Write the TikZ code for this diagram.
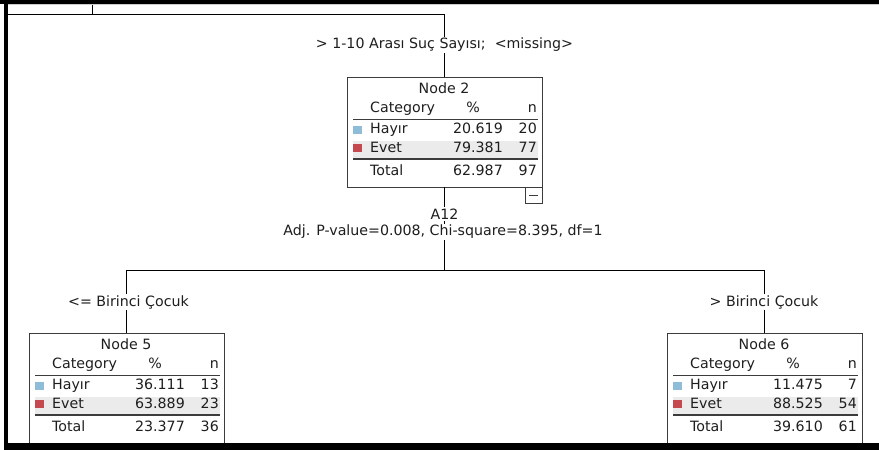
\documentclass[tikz,border=0pt]{standalone}
\usepackage{fontspec}
\setmainfont{DejaVu Sans}
\usepackage{tikz}

\definecolor{hayirblue}{HTML}{8FBCD6}
\definecolor{evetred}{HTML}{C44A50}
\definecolor{bandgrey}{HTML}{EBEBEB}
\definecolor{inkgrey}{HTML}{1E1E1E}
\definecolor{boxgrey}{HTML}{3C3C3C}

\newcommand\spssfont{\fontsize{14.2}{16}\selectfont}

% #1 node number, #2 left, #3 top, #4-#9 table values
\newcommand\ctnode[9]{%
  \fill[bandgrey] (#2+6,#3+64) rectangle (#2+191,#3+81);
  \node[nodebox] (n#1) at (#2+97.5,#3+55) {};
  \node[txt,anchor=mid] (n#1title) at (#2+97,#3+13.5) {Node #1};
  \node[txt,anchor=mid west] (n#1cat) at (#2+23,#3+33) {Category};
  \node[txt,anchor=mid] (n#1pct) at (#2+126,#3+33) {\%};
  \node[txt,anchor=mid east] (n#1n) at (#2+190,#3+33) {n};
  \draw[rule] (#2+6,#3+42) -- (#2+191,#3+42);
  \fill[hayirblue] (#2+6,#3+48.5) rectangle (#2+14.5,#3+57);
  \node[txt,anchor=mid west] (n#1hayir) at (#2+23,#3+54) {Hayır};
  \node[txt,anchor=mid east] (n#1hayirp) at (#2+156,#3+54) {#4};
  \node[txt,anchor=mid east] (n#1hayirn) at (#2+190,#3+54) {#5};
  \fill[evetred] (#2+6,#3+66.5) rectangle (#2+14.5,#3+75);
  \node[txt,anchor=mid west] (n#1evet) at (#2+23,#3+73) {Evet};
  \node[txt,anchor=mid east] (n#1evetp) at (#2+156,#3+73) {#6};
  \node[txt,anchor=mid east] (n#1evetn) at (#2+190,#3+73) {#7};
  \draw[rule,line width=1.2pt] (#2+6,#3+82) -- (#2+191,#3+82);
  \node[txt,anchor=mid west] (n#1total) at (#2+23,#3+96) {Total};
  \node[txt,anchor=mid east] (n#1totalp) at (#2+156,#3+96) {#8};
  \node[txt,anchor=mid east] (n#1totaln) at (#2+190,#3+96) {#9};
  \draw[rule] (#2+178,#3+110) rectangle (#2+195,#3+126);
  \draw[rule] (#2+182,#3+118) -- (#2+191,#3+118);
}

\begin{document}
\begin{tikzpicture}[x=1pt,y=-1pt,
    nodebox/.style={draw=boxgrey,line width=0.9pt,minimum width=195pt,minimum height=110pt,inner sep=0pt},
    txt/.style={inner sep=0pt,font=\spssfont,text=inkgrey},
    branch/.style={draw=black,line width=0.9pt},
    rule/.style={draw=boxgrey,line width=0.8pt},
    edgelabel/.style={fill=white,inner sep=1.5pt,font=\spssfont,text=inkgrey}]
  \useasboundingbox (0,0) rectangle (879,450);

  \ctnode{2}{347}{77}{20.619}{20}{79.381}{77}{62.987}{97}
  \ctnode{5}{29}{333}{36.111}{13}{63.889}{23}{23.377}{36}
  \ctnode{6}{667}{333}{11.475}{7}{88.525}{54}{39.610}{61}

  \coordinate (root) at (92,0);
  \coordinate (lft) at (4,14);
  \coordinate (split) at (444.5,270);
  \coordinate (c5) at (126.5,450);
  \coordinate (c6) at (764.5,450);

  \draw[branch] (lft) -| (n2.north);
  \draw[branch] (root) -- (root |- lft);
  \draw[branch] (n2.south) -- (split);
  \draw[branch] (split) -| (n5.north);
  \draw[branch] (split) -| (n6.north);
  \draw[branch] (n5.south) -- (c5);
  \draw[branch] (n6.south) -- (c6);

  \node[edgelabel] (l2) at (444.5,45) {> 1-10 Arası Suç Sayısı;\ \ <missing>};
  \node[edgelabel] (var2) at (444.5,214) {A12};
  \node[edgelabel] (stat2) at (443,232) {Adj. P-value=0.008, Chi-square=8.395, df=1};
  \node[edgelabel] (l5) at (128.5,302) {<= Birinci Çocuk};
  \node[edgelabel] (l6) at (764,302) {> Birinci Çocuk};

  % window frame
  \fill[black] (0,0) rectangle (879,3.5);
  \draw[gray!40,line width=0.6pt] (7.5,4.2) -- (879,4.2);
  \fill[black] (3.5,0) rectangle (7.5,450);
  \fill[black] (3.5,443) rectangle (879,450);
\end{tikzpicture}
\end{document}
